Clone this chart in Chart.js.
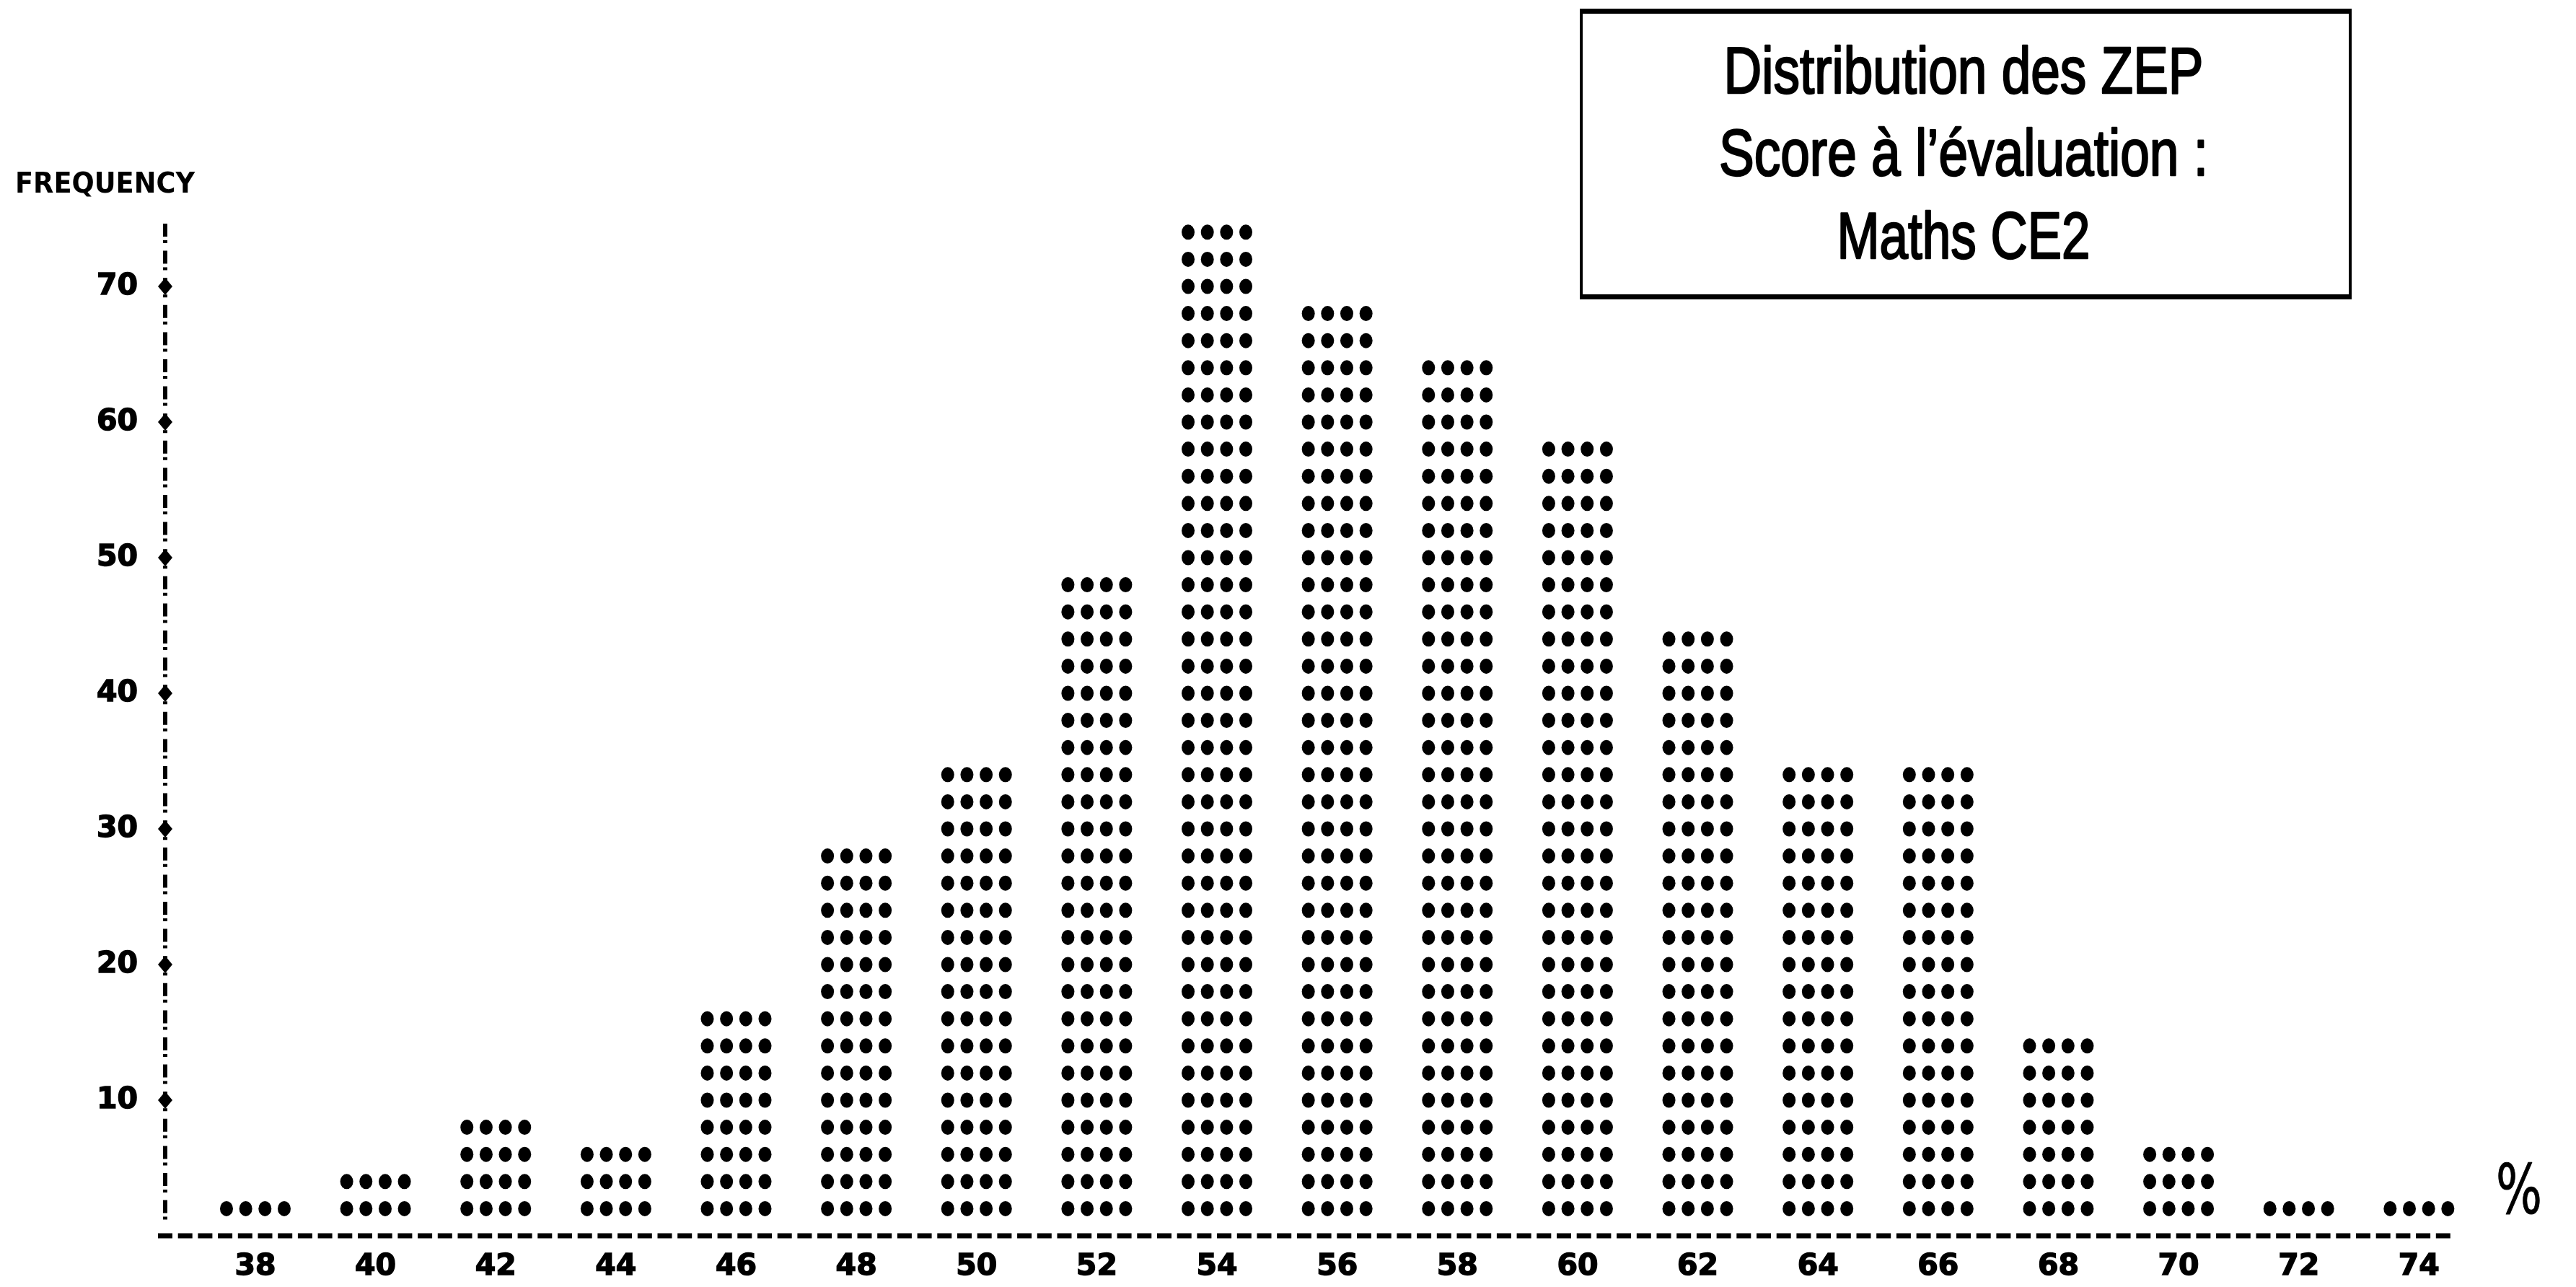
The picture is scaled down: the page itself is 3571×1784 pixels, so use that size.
<!DOCTYPE html>
<html>
<head>
<meta charset="utf-8">
<script src="https://cdn.jsdelivr.net/npm/chart.js@4"></script>
<style>
  html, body { margin: 0; padding: 0; background: #fff; }
  canvas { display: block; }
</style>
</head>
<body>
<canvas id="chart" width="3571" height="1784"></canvas>
<script>
// Score buckets (%) and number of ZEP schools per bucket
const scores = [38, 40, 42, 44, 46, 48, 50, 52, 54, 56, 58, 60, 62, 64, 66, 68, 70, 72, 74];
const frequencies = [2, 4, 8, 6, 16, 28, 34, 48, 74, 68, 64, 58, 44, 34, 34, 14, 6, 2, 2];
const yTickValues = [10, 20, 30, 40, 50, 60, 70];
const titleLines = ['Distribution des ZEP', 'Score à l’évaluation :', 'Maths CE2'];
const yAxisTitle = 'FREQUENCY';
const xAxisUnit = '%';

// one row of dots stands for this many schools
const ROW_STEP = 2;
const DOTS_PER_ROW = 4;

const INK = '#000';
const labelFont = { family: 'DejaVu Sans', weight: 'bold', size: 41 };

// draw text squeezed/stretched horizontally to a given width
function fittedText(ctx, text, cx, baseline, width, strokeW) {
  const w = ctx.measureText(text).width;
  ctx.save();
  ctx.translate(cx, baseline);
  ctx.scale(width / w, 1);
  ctx.textAlign = 'center';
  ctx.textBaseline = 'alphabetic';
  ctx.fillText(text, 0, 0);
  if (strokeW) {
    ctx.lineWidth = strokeW;
    ctx.lineJoin = 'round';
    ctx.strokeText(text, 0, 0);
  }
  ctx.restore();
}

// dashed axes drawn along the chart area edges
const dashedAxes = {
  id: 'dashedAxes',
  beforeDatasetsDraw(chart) {
    const ctx = chart.ctx;
    const a = chart.chartArea;
    ctx.save();
    ctx.strokeStyle = INK;
    ctx.lineCap = 'butt';

    // vertical axis: "!" pattern (long dash, short dot)
    ctx.lineWidth = 6;
    ctx.setLineDash([18, 5, 4, 10.6]);
    ctx.beginPath();
    ctx.moveTo(a.left, a.top + 7);
    ctx.lineTo(a.left, a.bottom - 20);
    ctx.stroke();

    // horizontal axis
    ctx.lineWidth = 7;
    ctx.setLineDash([20, 7.7]);
    ctx.beginPath();
    ctx.moveTo(a.left - 10, a.bottom);
    ctx.lineTo(a.right + 2, a.bottom);
    ctx.stroke();
    ctx.restore();
  }
};

// dotted "line printer" bars: each row of dots marks ROW_STEP units
const dotBars = {
  id: 'dotBars',
  afterDatasetsDraw(chart) {
    const ctx = chart.ctx;
    const yScale = chart.scales.y;
    const meta = chart.getDatasetMeta(0);
    const dotW = 18, dotH = 21;
    ctx.save();
    ctx.fillStyle = INK;
    meta.data.forEach((bar, i) => {
      const value = frequencies[i];
      const w = bar.width;
      const left = bar.x - w / 2 + dotW / 2;
      const gap = (w - dotW) / (DOTS_PER_ROW - 1);
      for (let v = ROW_STEP; v <= value; v += ROW_STEP) {
        const y = yScale.getPixelForValue(v);
        for (let k = 0; k < DOTS_PER_ROW; k++) {
          ctx.beginPath();
          ctx.ellipse(left + k * gap, y, dotW / 2, dotH / 2, 0, 0, Math.PI * 2);
          ctx.fill();
        }
      }
    });
    ctx.restore();
  }
};

// axis decorations, axis captions and the framed title
const decorations = {
  id: 'decorations',
  afterDraw(chart) {
    const ctx = chart.ctx;
    const area = chart.chartArea;
    const yScale = chart.scales.y;
    ctx.save();
    ctx.fillStyle = INK;
    ctx.strokeStyle = INK;

    // diamond tick marks on the vertical axis
    yTickValues.forEach(v => {
      const y = yScale.getPixelForValue(v);
      const x = area.left;
      ctx.beginPath();
      ctx.moveTo(x, y - 12);
      ctx.lineTo(x + 10, y);
      ctx.lineTo(x, y + 12);
      ctx.lineTo(x - 10, y);
      ctx.closePath();
      ctx.fill();
    });

    // vertical axis caption
    ctx.font = 'bold 39px "DejaVu Sans"';
    ctx.textBaseline = 'alphabetic';
    const fw = ctx.measureText(yAxisTitle).width;
    ctx.save();
    ctx.translate(21, 267);
    ctx.scale(249 / fw, 1);
    ctx.textAlign = 'left';
    ctx.fillText(yAxisTitle, 0, 0);
    ctx.restore();

    // unit at the end of the horizontal axis
    ctx.font = '95px "DejaVu Sans"';
    fittedText(ctx, xAxisUnit, 3492, 1682, 64, 1);

    // framed title
    const bx = 2192, by = 15, bw = 1066, bh = 397;
    ctx.lineWidth = 4;
    ctx.strokeRect(bx, by, bw, bh);
    ctx.fillRect(bx - 2, by - 3, bw + 4, 7);
    ctx.fillRect(bx - 2, by + bh - 4, bw + 4, 7);

    ctx.font = '90px "Liberation Sans Narrow", "Liberation Sans", sans-serif';
    const baselines = [129, 243, 358];
    const widths = [665, 678, 351];
    titleLines.forEach((line, i) => fittedText(ctx, line, 2722, baselines[i], widths[i], 2.5));

    ctx.restore();
  }
};

new Chart(document.getElementById('chart'), {
  type: 'bar',
  data: {
    datasets: [{
      data: scores.map((s, i) => ({ x: s, y: frequencies[i] })),
      backgroundColor: 'rgba(0,0,0,0)',
      borderWidth: 0,
      barThickness: 98
    }]
  },
  options: {
    responsive: false,
    animation: false,
    devicePixelRatio: 1,
    layout: { padding: { top: 303, right: 176, left: 0, bottom: 0 } },
    plugins: {
      legend: { display: false },
      tooltip: { enabled: false },
      title: { display: false }
    },
    scales: {
      x: {
        type: 'linear',
        min: 36.5,
        max: 74.5,
        offset: false,
        grid: { display: false, drawTicks: false },
        border: { display: false },
        ticks: {
          font: labelFont,
          color: INK,
          textStrokeColor: INK,
          textStrokeWidth: 1.5,
          padding: 19,
          maxRotation: 0,
          autoSkip: false
        },
        afterBuildTicks: s => { s.ticks = scores.map(v => ({ value: v })); },
        afterFit: s => { s.height = 71; }
      },
      y: {
        min: 0,
        max: 75,
        grid: { display: false, drawTicks: false },
        border: { display: false },
        ticks: {
          font: labelFont,
          color: INK,
          textStrokeColor: INK,
          textStrokeWidth: 1.5,
          padding: 38
        },
        afterBuildTicks: s => { s.ticks = yTickValues.map(v => ({ value: v })); },
        afterFit: s => { s.width = 229; }
      }
    }
  },
  plugins: [dashedAxes, dotBars, decorations]
});
</script>
</body>
</html>
